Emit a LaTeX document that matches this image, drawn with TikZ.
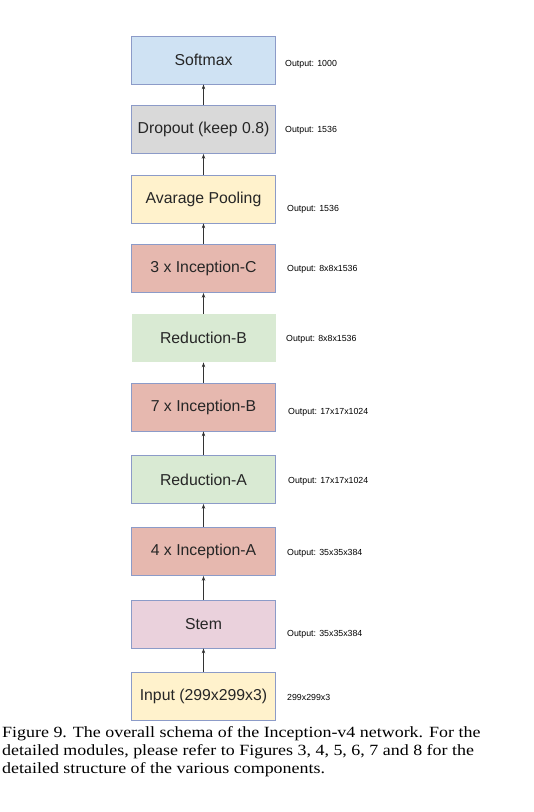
\documentclass[tikz,border=0pt]{standalone}
\usepackage{fontspec}
\setmainfont{Liberation Serif}
\newfontfamily\boxfont{Liberation Sans}
\newfontfamily\capfont[FakeStretch=1.15]{Liberation Serif}
\usetikzlibrary{arrows.meta}
\definecolor{bordc}{RGB}{140,155,200}
\definecolor{cblue}{HTML}{CFE2F3}
\definecolor{cgray}{HTML}{D9D9D9}
\definecolor{cyel}{HTML}{FFF2CC}
\definecolor{cred}{HTML}{E6B8AF}
\definecolor{cgreen}{HTML}{D9EAD3}
\definecolor{cpink}{HTML}{EAD1DC}
\tikzset{
  blk/.style={draw=bordc, line width=0.8pt, minimum width=144pt, minimum height=48pt,
    inner sep=0pt, font=\boxfont\fontsize{15.8}{18}\selectfont, text=black!85},
  outlbl/.style={anchor=west, inner sep=0pt, font=\boxfont\fontsize{8.8}{10}\selectfont},
  conn/.style={draw=black!80, line width=0.8pt, -{Stealth[length=5pt,width=3.5pt]}},
  captxt/.style={anchor=base west, inner sep=0pt, font=\capfont\fontsize{15.6}{18}\selectfont}
}
\begin{document}
\begin{tikzpicture}[x=1pt,y=-1pt]
\useasboundingbox (0,0) rectangle (534,812);
\fill[white] (0,0) rectangle (534,812);
\node[blk, fill=cblue]  (soft) at (203.5,60)  {Softmax};
\node[blk, fill=cgray]  (drop) at (203.5,129.5) {Dropout (keep 0.8)};
\node[blk, fill=cyel]   (pool) at (203.5,199) {Avarage Pooling};
\node[blk, fill=cred]   (incc) at (203.5,268.5) {3 x Inception-C};
\node[blk, fill=cgreen, draw=none] (redb) at (203.5,338) {Reduction-B};
\node[blk, fill=cred]   (incb) at (203.5,407) {7 x Inception-B};
\node[blk, fill=cgreen] (reda) at (203.5,479.5) {Reduction-A};
\node[blk, fill=cred]   (inca) at (203.5,551.5) {4 x Inception-A};
\node[blk, fill=cpink]  (stem) at (203.5,624) {Stem};
\node[blk, fill=cyel]   (inp)  at (203.5,696) {Input (299x299x3)};

\node[outlbl] (l1) at (285,64)  {Output: 1000};
\node[outlbl] (l2) at (285,130) {Output: 1536};
\node[outlbl] (l3) at (287,209) {Output: 1536};
\node[outlbl] (l4) at (287,269) {Output: 8x8x1536};
\node[outlbl] (l5) at (286,339) {Output: 8x8x1536};
\node[outlbl] (l6) at (288,412) {Output: 17x17x1024};
\node[outlbl] (l7) at (288,481) {Output: 17x17x1024};
\node[outlbl] (l8) at (287,553) {Output: 35x35x384};
\node[outlbl] (l9) at (287,634) {Output: 35x35x384};
\node[outlbl] (l10) at (287,697) {299x299x3};

\draw[conn] (drop.north) -- (soft.south);
\draw[conn] (pool.north) -- (drop.south);
\draw[conn] (incc.north) -- (pool.south);
\draw[conn] (redb.north) -- (incc.south);
\draw[conn] (incb.north) -- (redb.south);
\draw[conn] (reda.north) -- (incb.south);
\draw[conn] (inca.north) -- (reda.south);
\draw[conn] (stem.north) -- (inca.south);
\draw[conn] (inp.north) -- (stem.south);

\node[captxt] (c1) at (2,737.5) {Figure 9. The overall schema of the Inception-v4 network. For the};
\node[captxt] (c2) at (2,755.5) {detailed modules, please refer to Figures 3, 4, 5, 6, 7 and 8 for the};
\node[captxt] (c3) at (2,773.5) {detailed structure of the various components.};
\end{tikzpicture}
\end{document}
